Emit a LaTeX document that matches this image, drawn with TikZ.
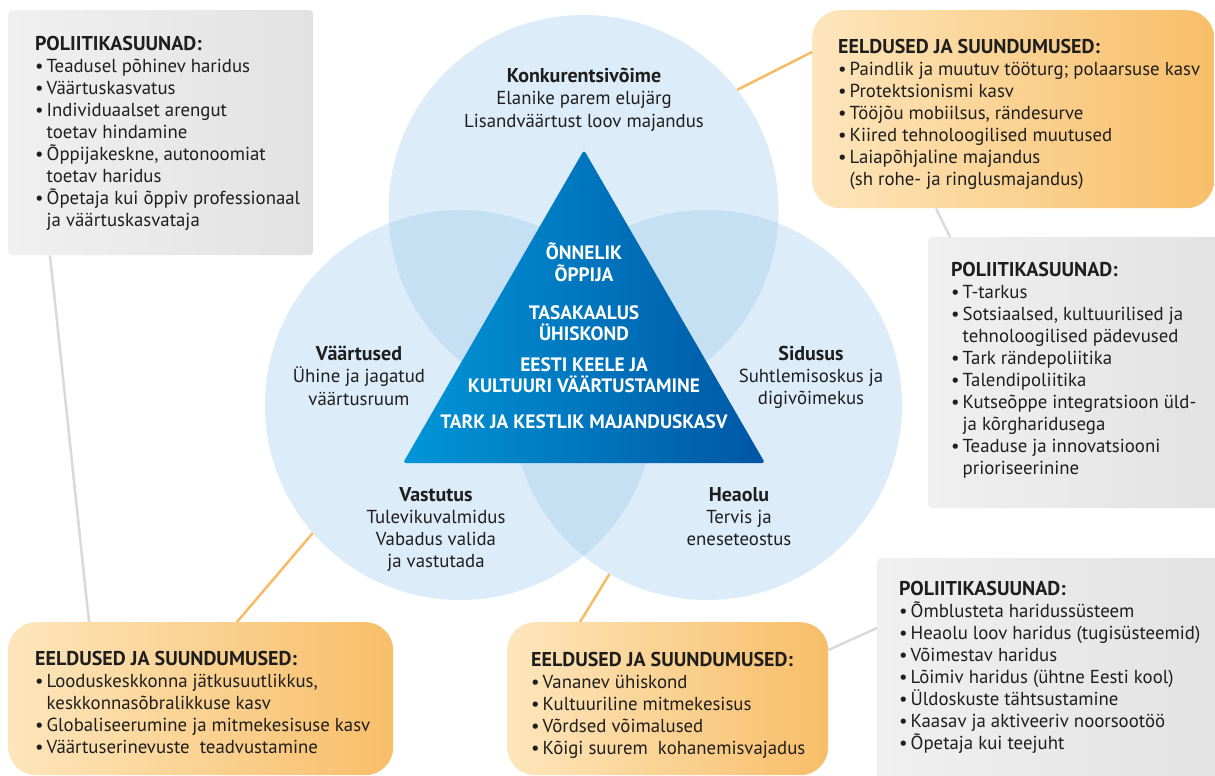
\documentclass[tikz,border=0pt]{standalone}
\usepackage{fontspec}
\setmainfont{PT Sans}
\usetikzlibrary{positioning}

\definecolor{ringblue}{RGB}{155,201,235}
\definecolor{triL}{RGB}{0,150,216}
\definecolor{triR}{RGB}{0,86,164}
\definecolor{orgL}{RGB}{253,230,188}
\definecolor{orgR}{RGB}{248,190,105}
\definecolor{greyL}{RGB}{240,240,240}
\definecolor{greyR}{RGB}{226,226,226}
\definecolor{orgline}{RGB}{248,187,100}
\definecolor{greyline}{RGB}{218,218,218}
\definecolor{ink}{RGB}{30,30,30}

\newcommand{\itm}{\makebox[11.5pt][l]{\textbullet}}
\newcommand{\cont}{\hspace*{11.5pt}}
\newcommand{\hd}[1]{{\fontsize{20}{22}\selectfont\bfseries #1}}

\begin{document}
\begin{tikzpicture}[x=1pt,y=-1pt]
\tikzstyle{every node}+=[inner sep=0pt, text=ink]
\tikzstyle{greybox}=[rounded corners=4pt, left color=greyL, right color=greyR, anchor=north west]
\tikzstyle{orangebox}=[rounded corners=28pt, left color=orgL, right color=orgR, anchor=north west]
\tikzstyle{ring}=[circle, fill=ringblue, fill opacity=0.35, minimum size=390pt]
\tikzstyle{boxtext}=[anchor=north west, align=left, font=\fontsize{18.8}{22}\selectfont]
\tikzstyle{ringtext}=[anchor=north, align=center, font=\fontsize{18.8}{22.2}\selectfont]
\tikzstyle{tritext}=[anchor=north, align=center, text=white, font=\bfseries\fontsize{19.4}{21.5}\selectfont]
\tikzstyle{orangeline}=[draw=orgline, line width=2.5pt]
\tikzstyle{greyline}=[draw=greyline, line width=2.5pt]
\useasboundingbox (0,0) rectangle (1215,776);
\fill [white] (0,0) rectangle (1215,776);
% boxes
\node [greybox, minimum width=305pt, minimum height=245pt] (pol1) at (8,10) {};
\node [orangebox, minimum width=402pt, minimum height=198pt] (eel1) at (812,10) {};
\node [greybox, minimum width=300pt, minimum height=271pt] (pol2) at (928,237) {};
\node [greybox, minimum width=350pt, minimum height=240pt] (pol3) at (877,558) {};
\node [orangebox, minimum width=385pt, minimum height=153pt] (eel2) at (8,622) {};
\node [orangebox, minimum width=321pt, minimum height=153pt] (eel3) at (507,622) {};
% circles
\node [ring] (topc) at (583.5,210) {};
\node [ring] (leftc) at (460,405) {};
\node [ring] (rightc) at (707,405) {};
% connectors
\draw [orangeline] (topc.38) -- ([yshift=-42pt]eel1.north west);
\draw [orangeline] (leftc.221) -- ([xshift=229pt]eel2.north west);
\draw [orangeline] (rightc.240) -- ([xshift=73pt]eel3.north west);
\draw [greyline] ([xshift=42pt]pol1.south west) -- ([xshift=81pt]eel2.north west);
\draw [greyline] ([xshift=124pt]eel1.south west) -- ([xshift=22pt]pol2.north west);
\draw [greyline] ([yshift=-28pt]eel3.north east) -- ([yshift=-70pt]pol3.north west);
% triangle
\shade [left color=triL, right color=triR, rounded corners=3pt] (584,150) -- (765,463) -- (403,463) -- cycle;
\node [tritext] (tri1) at (584,243) {ÕNNELIK\\ÕPPIJA};
\node [tritext] (tri2) at (584,305) {TASAKAALUS\\ÜHISKOND};
\node [tritext] (tri3) at (584,357) {EESTI KEELE JA\\KULTUURI VÄÄRTUSTAMINE};
\node [tritext] (tri4) at (584,414) {TARK JA KESTLIK MAJANDUSKASV};
% circle labels
\node [ringtext] (konk) at (584,68) {\hd{Konkurentsivõime}\\Elanike parem elujärg\\Lisandväärtust loov majandus};
\node [ringtext] (vaart) at (359,346) {\hd{Väärtused}\\Ühine ja jagatud\\väärtusruum};
\node [ringtext] (sidus) at (811,346) {\hd{Sidusus}\\Suhtlemisoskus ja\\digivõimekus};
\node [ringtext] (vast) at (436,487) {\hd{Vastutus}\\Tulevikuvalmidus\\Vabadus valida\\ja vastutada};
\node [ringtext] (heaolu) at (739,487) {\hd{Heaolu}\\Tervis ja\\eneseteostus};
% box texts
\node [boxtext] (pol1t) at (35,36) {\hd{POLIITIKASUUNAD:}\\
\itm Teadusel põhinev haridus\\
\itm Väärtuskasvatus\\
\itm Individuaalset arengut\\
\cont toetav hindamine\\
\itm Õppijakeskne, autonoomiat\\
\cont toetav haridus\\
\itm Õpetaja kui õppiv professionaal\\
\cont ja väärtuskasvataja};
\node [boxtext] (eel1t) at (838,39) {\hd{EELDUSED JA SUUNDUMUSED:}\\
\itm Paindlik ja muutuv tööturg; polaarsuse kasv\\
\itm Protektsionismi kasv\\
\itm Tööjõu mobiilsus, rändesurve\\
\itm Kiired tehnoloogilised muutused\\
\itm Laiapõhjaline majandus\\
\cont (sh rohe- ja ringlusmajandus)};
\node [boxtext] (pol2t) at (951,262) {\hd{POLIITIKASUUNAD:}\\
\itm T-tarkus\\
\itm Sotsiaalsed, kultuurilised ja\\
\cont tehnoloogilised pädevused\\
\itm Tark rändepoliitika\\
\itm Talendipoliitika\\
\itm Kutseõppe integratsioon üld-\\
\cont ja kõrgharidusega\\
\itm Teaduse ja innovatsiooni\\
\cont prioriseerinine};
\node [boxtext] (pol3t) at (899,581) {\hd{POLIITIKASUUNAD:}\\
\itm Õmblusteta haridussüsteem\\
\itm Heaolu loov haridus (tugisüsteemid)\\
\itm Võimestav haridus\\
\itm Lõimiv haridus (ühtne Eesti kool)\\
\itm Üldoskuste tähtsustamine\\
\itm Kaasav ja aktiveeriv noorsootöö\\
\itm Õpetaja kui teejuht};
\node [boxtext] (eel2t) at (35,651) {\hd{EELDUSED JA SUUNDUMUSED:}\\
\itm Looduskeskkonna jätkusuutlikkus,\\
\cont keskkonnasõbralikkuse kasv\\
\itm Globaliseerumine ja mitmekesisuse kasv\\
\itm Väärtuserinevuste\ \ teadvustamine};
\node [boxtext] (eel3t) at (531,652) {\hd{EELDUSED JA SUUNDUMUSED:}\\
\itm Vananev ühiskond\\
\itm Kultuuriline mitmekesisus\\
\itm Võrdsed võimalused\\
\itm Kõigi suurem\ \ kohanemisvajadus};
\end{tikzpicture}
\end{document}
